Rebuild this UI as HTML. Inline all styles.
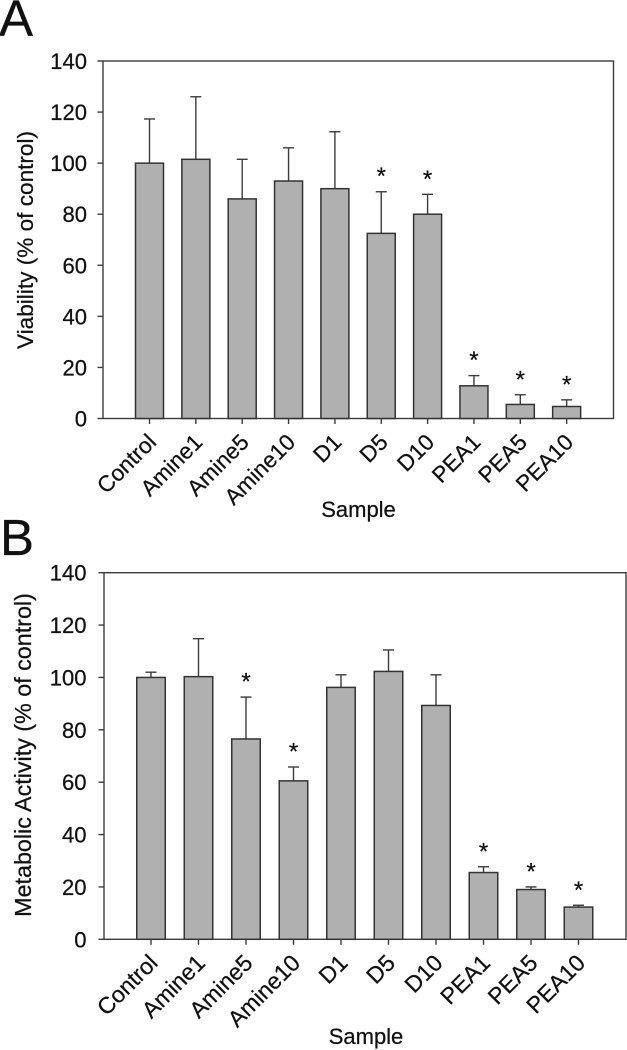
<!DOCTYPE html>
<html>
<head>
<meta charset="utf-8">
<style>
html,body{margin:0;padding:0;background:#fff;width:627px;height:1050px;overflow:hidden}
svg{display:block;font-family:"Liberation Sans",sans-serif}
text{fill:#111;stroke:#111;stroke-width:0.25px}
</style>
</head>
<body>
<svg id="figure" width="627" height="1050" viewBox="0 0 627 1050" xmlns="http://www.w3.org/2000/svg"></svg>
<script>
const categories = ['Control','Amine1','Amine5','Amine10','D1','D5','D10','PEA1','PEA5','PEA10'];
const yTicks = [0,20,40,60,80,100,120,140];
const viabilityValues = [100,101.5,86,93,90,72.5,80,12.8,5.5,4.7];
const viabilityErrorTops = [117.3,126,101.5,106,112.3,88.8,87.8,16.8,9.3,7.3];
const viabilitySignificant = [false,false,false,false,false,true,true,true,true,true];
const activityValues = [100,100.3,76.5,60.5,96.2,102.3,89.3,25.5,19,12.3];
const activityErrorTops = [102,114.8,92.5,65.8,101,110.5,101,27.7,20,13];
const activitySignificant = [false,false,true,true,false,false,false,true,true,true];

const NS = 'http://www.w3.org/2000/svg';
const svg = document.getElementById('figure');
function mk(parent, tag, attrs, txt){
  const e = document.createElementNS(NS, tag);
  for (const k in attrs) e.setAttribute(k, attrs[k]);
  if (txt !== undefined) e.textContent = txt;
  parent.appendChild(e);
  return e;
}
const LINE = '#3c3c3c';
function drawPanel(p){
  const g = mk(svg,'g',{});
  
  
  const y = v => p.y0 + (p.y140 - p.y0) * v / 140;
  const x = i => p.x0 + p.step * i;

  const letter = mk(g,'text',{x:p.letterX,y:p.letterY,'font-size':51},p.letter);
  
  

  const frame = mk(g,'rect',{x:p.left,y:y(140),width:p.right-p.left,height:y(0)-y(140),fill:'#fff',stroke:LINE,'stroke-width':1.4});
  
  

  yTicks.forEach(t => {
    const tick = mk(g,'line',{x1:p.left-5.5,x2:p.left,y1:y(t),y2:y(t),stroke:LINE,'stroke-width':1.4});
    
    
    const lab = mk(g,'text',{x:p.left-p.tickGap,y:y(t)+8,'font-size':22,'text-anchor':'end'},t);
    
    
  });

  categories.forEach((c,i) => {
    const cx = x(i);
    const err = mk(g,'line',{x1:cx,x2:cx,y1:y(p.tops[i]),y2:y(p.values[i]),stroke:LINE,'stroke-width':1.4});
    
    
    const cap = mk(g,'line',{x1:cx-5.5,x2:cx+5.5,y1:y(p.tops[i]),y2:y(p.tops[i]),stroke:LINE,'stroke-width':1.4});
    
    
    const bar = mk(g,'rect',{x:cx-p.barW/2,y:y(p.values[i]),width:p.barW,height:y(0)-y(p.values[i]),fill:'#b0b0b0',stroke:'#333','stroke-width':1.5});
    
    
    const tick = mk(g,'line',{x1:cx,x2:cx,y1:y(0),y2:y(0)+5.5,stroke:LINE,'stroke-width':1.4});
    
    
    const ax = cx + 8, ay = y(0) + 25;
    const lab = mk(g,'text',{x:ax,y:ay,'font-size':p.xLabelSize,'text-anchor':'end',transform:'rotate(-45 '+ax+' '+ay+')'},c);
    
    
    if (p.sig[i]) {
      const star = mk(g,'text',{x:cx,y:y(p.tops[i])-7.5,'font-size':24,'text-anchor':'middle'},'*');
      
      
    }
  });

  const xt = mk(g,'text',{x:p.xTitleX,y:p.xTitleY,'font-size':22,'text-anchor':'middle'},'Sample');
  
  
  const yt = mk(g,'text',{x:0,y:0,'font-size':p.yTitleSize,'text-anchor':'middle',transform:'translate('+p.yTitleX+' '+p.yTitleY+') rotate(-90)'},p.yTitle);
  
  
}
drawPanel({name:'panel-a',letter:'A',letterX:-1,letterY:36,left:103,right:613.5,y0:418.5,y140:61,x0:149.5,step:46.35,barW:28,tickGap:16,xLabelSize:22.5,
  values:viabilityValues,tops:viabilityErrorTops,sig:viabilitySignificant,
  xTitleX:358.5,xTitleY:517,yTitle:'Viability (% of control)',yTitleX:33,yTitleY:240,yTitleSize:22.6});
drawPanel({name:'panel-b',letter:'B',letterX:0,letterY:555,left:104,right:626,y0:939.3,y140:572.7,x0:151,step:47.5,barW:28.5,tickGap:17.5,xLabelSize:23,
  values:activityValues,tops:activityErrorTops,sig:activitySignificant,
  xTitleX:366,xTitleY:1044,yTitle:'Metabolic Activity (% of control)',yTitleX:31,yTitleY:755,yTitleSize:23.3});
</script>
</body>
</html>
